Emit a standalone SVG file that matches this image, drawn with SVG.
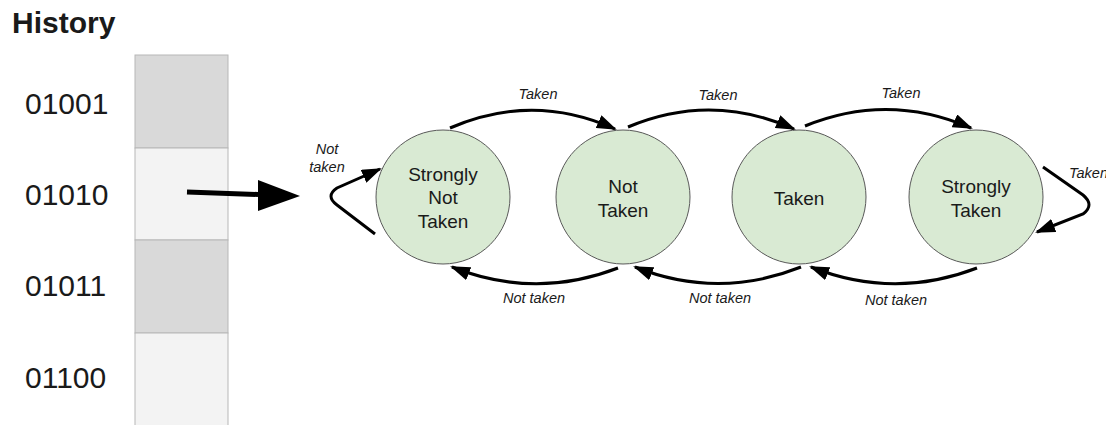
<svg xmlns="http://www.w3.org/2000/svg" width="1112" height="425" viewBox="0 0 1112 425">
<style>
text{font-family:"Liberation Sans",Arial,sans-serif;fill:#1a1a1a}
.title{font-size:30px;font-weight:bold}
.hist{font-size:30px}
.cell{stroke:#b7b7b7;stroke-width:1}
.dark{fill:#d9d9d9}
.light{fill:#f3f3f3}
.state circle{fill:#d9ead3;stroke:#595959;stroke-width:1}
.state text{font-size:19px;text-anchor:middle}
.lbl{font-size:14.5px;font-style:italic;text-anchor:middle}
.edge{fill:none;stroke:#000;stroke-width:3;marker-end:url(#ah)}
</style>
<defs>
<marker id="ah" viewBox="0 0 20 14" refX="18" refY="7" markerWidth="20" markerHeight="14" markerUnits="userSpaceOnUse" orient="auto">
<path d="M0,0 L20,7 L0,14 z" fill="#000"/>
</marker>
<clipPath id="edgeclip"><rect x="0" y="0" width="1106" height="425"/></clipPath>
</defs>
<rect width="1112" height="425" fill="#fff"/>
<text class="title" x="12" y="33">History</text>
<g id="history">
<rect class="cell dark" x="135" y="55" width="93" height="93"/>
<rect class="cell light" x="135" y="148" width="93" height="92"/>
<rect class="cell dark" x="135" y="240" width="93" height="93"/>
<rect class="cell light" x="135" y="333" width="93" height="100"/>
<text class="hist" x="25" y="114">01001</text>
<text class="hist" x="25" y="205">01010</text>
<text class="hist" x="25" y="296">01011</text>
<text class="hist" x="25" y="388">01100</text>
</g>
<g id="snt" class="state">
<circle cx="443" cy="197" r="67"/>
<text x="443" y="181">Strongly</text>
<text x="443" y="204">Not</text>
<text x="443" y="228">Taken</text>
</g>
<g id="nt" class="state">
<circle cx="623" cy="197" r="67"/>
<text x="623" y="193">Not</text>
<text x="623" y="217">Taken</text>
</g>
<g id="t" class="state">
<circle cx="799" cy="197" r="67"/>
<text x="799" y="205">Taken</text>
</g>
<g id="st" class="state">
<circle cx="976" cy="197" r="67"/>
<text x="976" y="193">Strongly</text>
<text x="976" y="217">Taken</text>
</g>
<g id="connectors">
<path d="M187,192 L258,194.5" stroke="#000" stroke-width="5" fill="none"/>
<path d="M258,180 L300,196 L258,211 z" fill="#000"/>
<path class="edge" d="M450,128 Q533,92 615,129"/>
<path class="edge" d="M628,127 Q711,92 794,129"/>
<path class="edge" d="M805,126 Q888,92 971,128"/>
<path class="edge" d="M618,268 Q535,300 452,267"/>
<path class="edge" d="M801,267 Q718,300 635,267"/>
<path class="edge" d="M977,268 Q894,300 811,267"/>
<path class="edge" d="M375,234 L337,205 Q325,196 337,188 L380,169"/>
<path class="edge" d="M1043,167 L1083,195 Q1095,205 1083,214 L1037,232"/>
</g>
<g id="labels">
<text class="lbl" x="538" y="99">Taken</text>
<text class="lbl" x="718" y="100">Taken</text>
<text class="lbl" x="901" y="98">Taken</text>
<text class="lbl" x="534" y="303">Not taken</text>
<text class="lbl" x="720" y="303">Not taken</text>
<text class="lbl" x="896" y="305">Not taken</text>
<text class="lbl" x="327" y="154">Not</text>
<text class="lbl" x="327" y="172">taken</text>
<text class="lbl" x="1069" y="178" style="text-anchor:start" clip-path="url(#edgeclip)">Taken</text>
</g>
</svg>
